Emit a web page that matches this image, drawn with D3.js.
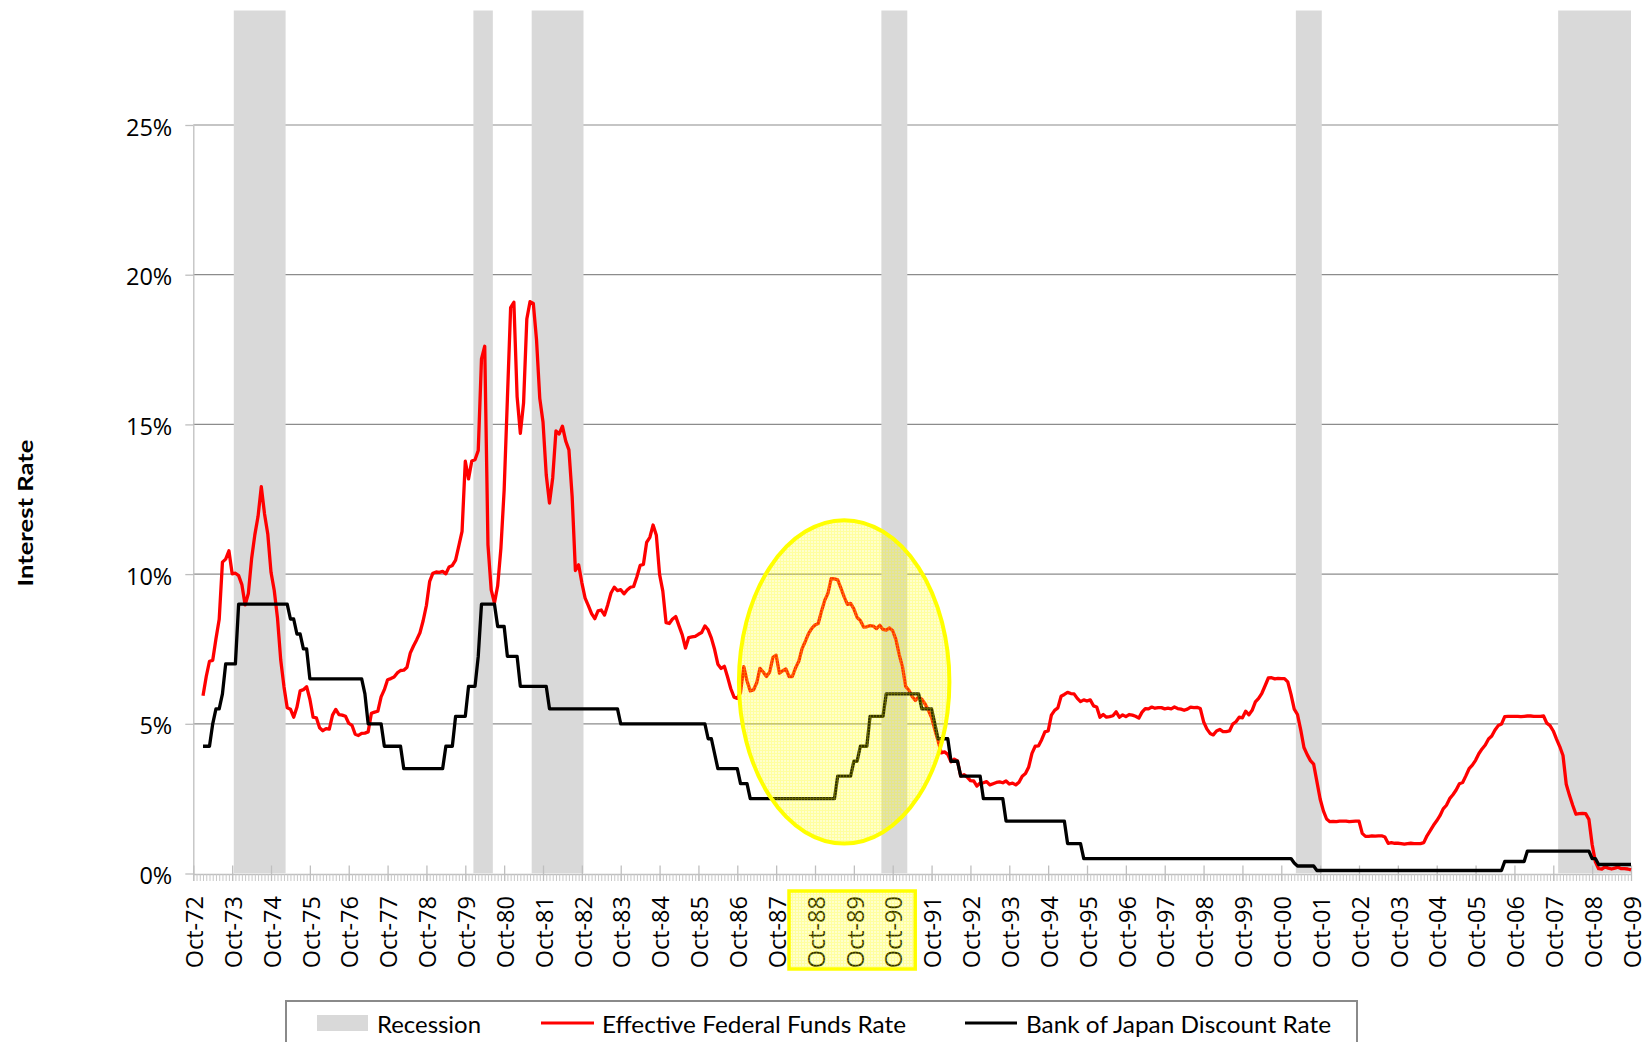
<!DOCTYPE html>
<html><head><meta charset="utf-8">
<script src="https://cdn.jsdelivr.net/npm/d3@7"></script>
<style>body{margin:0;background:#fff}svg{display:block}</style>
</head><body>
<svg id="chart" width="1648" height="1042"></svg>
<script>
// ---------------- DATA ----------------
const axisCategories = ["Oct-72","Oct-73","Oct-74","Oct-75","Oct-76","Oct-77","Oct-78","Oct-79","Oct-80","Oct-81","Oct-82","Oct-83","Oct-84","Oct-85","Oct-86","Oct-87","Oct-88","Oct-89","Oct-90","Oct-91","Oct-92","Oct-93","Oct-94","Oct-95","Oct-96","Oct-97","Oct-98","Oct-99","Oct-00","Oct-01","Oct-02","Oct-03","Oct-04","Oct-05","Oct-06","Oct-07","Oct-08","Oct-09"];
const firstDataMonth = "Jan-73";
const yTickValues = [0, 5, 10, 15, 20, 25];
const yTickLabels = ["0%", "5%", "10%", "15%", "20%", "25%"];
const seriesNames = ["Recession", "Effective Federal Funds Rate", "Bank of Japan Discount Rate"];
const yAxisTitle = "Interest Rate";

// Effective Federal Funds Rate, monthly, Jan-73 .. Oct-09 (%)
const fedFunds = [
 5.94,6.58,7.09,7.12,7.84,8.49,10.40,10.50,10.78,10.01,10.03,9.95,
 9.65,8.97,9.35,10.51,11.31,11.93,12.92,12.01,11.34,10.06,9.45,8.53,
 7.13,6.24,5.54,5.49,5.22,5.55,6.10,6.14,6.24,5.82,5.22,5.20,
 4.87,4.77,4.84,4.82,5.29,5.48,5.31,5.29,5.25,5.02,4.95,4.65,
 4.61,4.68,4.69,4.73,5.35,5.39,5.42,5.90,6.14,6.47,6.51,6.56,
 6.70,6.78,6.79,6.89,7.36,7.60,7.81,8.04,8.45,8.96,9.76,10.03,
 10.07,10.06,10.09,10.01,10.24,10.29,10.47,10.94,11.43,13.77,13.18,13.78,
 13.82,14.13,17.19,17.61,10.98,9.47,9.03,9.61,10.87,12.81,15.85,18.90,
 19.08,15.93,14.70,15.72,18.52,19.10,19.04,17.82,15.87,15.08,13.31,12.37,
 13.22,14.78,14.68,14.94,14.45,14.15,12.59,10.12,10.31,9.71,9.20,8.95,
 8.68,8.51,8.77,8.80,8.63,8.98,9.37,9.56,9.45,9.48,9.34,9.47,
 9.56,9.59,9.91,10.29,10.32,11.06,11.23,11.64,11.30,9.99,9.43,8.38,
 8.35,8.50,8.58,8.27,7.97,7.53,7.88,7.90,7.92,7.99,8.05,8.27,
 8.14,7.86,7.48,6.99,6.85,6.92,6.56,6.17,5.89,5.85,6.04,6.91,
 6.43,6.10,6.13,6.37,6.85,6.73,6.58,6.73,7.22,7.29,6.69,6.77,
 6.83,6.58,6.58,6.87,7.09,7.51,7.75,8.01,8.19,8.30,8.35,8.76,
 9.12,9.36,9.85,9.84,9.81,9.53,9.24,8.99,9.02,8.84,8.55,8.45,
 8.23,8.24,8.28,8.26,8.18,8.29,8.15,8.13,8.20,8.11,7.81,7.31,
 6.91,6.25,6.12,5.91,5.78,5.90,5.82,5.66,5.45,5.21,4.81,4.43,
 4.03,4.06,3.98,3.73,3.82,3.76,3.25,3.30,3.22,3.10,3.09,2.92,
 3.02,3.03,3.07,2.96,3.00,3.04,3.06,3.03,3.09,2.99,3.02,2.96,
 3.05,3.25,3.34,3.56,4.01,4.25,4.26,4.47,4.73,4.76,5.29,5.45,
 5.53,5.92,5.98,6.05,6.01,6.00,5.85,5.74,5.80,5.76,5.80,5.60,
 5.56,5.22,5.31,5.22,5.24,5.27,5.40,5.22,5.30,5.24,5.31,5.29,
 5.25,5.19,5.39,5.51,5.50,5.56,5.52,5.54,5.54,5.50,5.52,5.50,
 5.56,5.51,5.49,5.45,5.49,5.56,5.54,5.55,5.51,5.07,4.83,4.68,
 4.63,4.76,4.81,4.74,4.74,4.76,4.99,5.07,5.22,5.20,5.42,5.30,
 5.45,5.73,5.85,6.02,6.27,6.53,6.54,6.50,6.52,6.51,6.51,6.40,
 5.98,5.49,5.31,4.80,4.21,3.97,3.77,3.65,3.07,2.49,2.09,1.82,
 1.73,1.74,1.73,1.75,1.75,1.75,1.73,1.74,1.75,1.75,1.34,1.24,
 1.24,1.26,1.25,1.26,1.26,1.22,1.01,1.03,1.01,1.01,1.00,0.98,
 1.00,1.01,1.00,1.00,1.00,1.03,1.26,1.43,1.61,1.76,1.93,2.16,
 2.28,2.50,2.63,2.79,3.00,3.04,3.26,3.50,3.62,3.78,4.00,4.16,
 4.29,4.49,4.59,4.79,4.94,4.99,5.24,5.25,5.25,5.25,5.25,5.24,
 5.25,5.26,5.26,5.25,5.25,5.25,5.26,5.02,4.94,4.76,4.49,4.24,
 3.94,2.98,2.61,2.28,1.98,2.00,2.01,2.00,1.81,0.97,0.39,0.16,
 0.15,0.22,0.18,0.15,0.18,0.21,0.16,0.16,0.15,0.12
];

// Bank of Japan Discount Rate, monthly, Jan-73 .. Oct-09 (%)
const bojDiscount = [
 4.25,4.25,4.25,5.0,5.5,5.5,6.0,7.0,7.0,7.0,7.0,9.0,
 9.0,9.0,9.0,9.0,9.0,9.0,9.0,9.0,9.0,9.0,9.0,9.0,
 9.0,9.0,9.0,8.5,8.5,8.0,8.0,7.5,7.5,6.5,6.5,6.5,
 6.5,6.5,6.5,6.5,6.5,6.5,6.5,6.5,6.5,6.5,6.5,6.5,
 6.5,6.5,6.0,5.0,5.0,5.0,5.0,5.0,4.25,4.25,4.25,4.25,
 4.25,4.25,3.5,3.5,3.5,3.5,3.5,3.5,3.5,3.5,3.5,3.5,
 3.5,3.5,3.5,4.25,4.25,4.25,5.25,5.25,5.25,5.25,6.25,6.25,
 6.25,7.25,9.0,9.0,9.0,9.0,9.0,8.25,8.25,8.25,7.25,7.25,
 7.25,7.25,6.25,6.25,6.25,6.25,6.25,6.25,6.25,6.25,6.25,5.5,
 5.5,5.5,5.5,5.5,5.5,5.5,5.5,5.5,5.5,5.5,5.5,5.5,
 5.5,5.5,5.5,5.5,5.5,5.5,5.5,5.5,5.5,5.0,5.0,5.0,
 5.0,5.0,5.0,5.0,5.0,5.0,5.0,5.0,5.0,5.0,5.0,5.0,
 5.0,5.0,5.0,5.0,5.0,5.0,5.0,5.0,5.0,5.0,5.0,5.0,
 4.5,4.5,4.0,3.5,3.5,3.5,3.5,3.5,3.5,3.5,3.0,3.0,
 3.0,2.5,2.5,2.5,2.5,2.5,2.5,2.5,2.5,2.5,2.5,2.5,
 2.5,2.5,2.5,2.5,2.5,2.5,2.5,2.5,2.5,2.5,2.5,2.5,
 2.5,2.5,2.5,2.5,3.25,3.25,3.25,3.25,3.25,3.75,3.75,4.25,
 4.25,4.25,5.25,5.25,5.25,5.25,5.25,6.0,6.0,6.0,6.0,6.0,
 6.0,6.0,6.0,6.0,6.0,6.0,5.5,5.5,5.5,5.5,5.0,4.5,
 4.5,4.5,4.5,3.75,3.75,3.75,3.25,3.25,3.25,3.25,3.25,3.25,
 3.25,2.5,2.5,2.5,2.5,2.5,2.5,2.5,1.75,1.75,1.75,1.75,
 1.75,1.75,1.75,1.75,1.75,1.75,1.75,1.75,1.75,1.75,1.75,1.75,
 1.75,1.75,1.75,1.0,1.0,1.0,1.0,1.0,0.5,0.5,0.5,0.5,
 0.5,0.5,0.5,0.5,0.5,0.5,0.5,0.5,0.5,0.5,0.5,0.5,
 0.5,0.5,0.5,0.5,0.5,0.5,0.5,0.5,0.5,0.5,0.5,0.5,
 0.5,0.5,0.5,0.5,0.5,0.5,0.5,0.5,0.5,0.5,0.5,0.5,
 0.5,0.5,0.5,0.5,0.5,0.5,0.5,0.5,0.5,0.5,0.5,0.5,
 0.5,0.5,0.5,0.5,0.5,0.5,0.5,0.5,0.5,0.5,0.5,0.5,
 0.5,0.35,0.25,0.25,0.25,0.25,0.25,0.25,0.1,0.1,0.1,0.1,
 0.1,0.1,0.1,0.1,0.1,0.1,0.1,0.1,0.1,0.1,0.1,0.1,
 0.1,0.1,0.1,0.1,0.1,0.1,0.1,0.1,0.1,0.1,0.1,0.1,
 0.1,0.1,0.1,0.1,0.1,0.1,0.1,0.1,0.1,0.1,0.1,0.1,
 0.1,0.1,0.1,0.1,0.1,0.1,0.1,0.1,0.1,0.1,0.1,0.1,
 0.1,0.1,0.1,0.1,0.1,0.1,0.4,0.4,0.4,0.4,0.4,0.4,
 0.4,0.75,0.75,0.75,0.75,0.75,0.75,0.75,0.75,0.75,0.75,0.75,
 0.75,0.75,0.75,0.75,0.75,0.75,0.75,0.75,0.75,0.5,0.5,0.3,
 0.3,0.3,0.3,0.3,0.3,0.3,0.3,0.3,0.3,0.3
];

// NBER recessions as shaded in the chart (first month, last month)
const recessionStarts = ["Nov-73", "Jan-80", "Jul-81", "Jul-90", "Mar-01", "Dec-07"];
const recessionEnds   = ["Feb-75", "Jun-80", "Oct-82", "Feb-91", "Oct-01", "Oct-09"];

// highlighted period (annotation)
const highlightLabels = ["Oct-88", "Oct-89", "Oct-90"];
const highlightCenterMonth = "Jul-89";
const highlightCenterValue = 6.4;
const highlightHalfSpanMonths = 32.5;
const highlightHalfSpanPct = 5.4;

// ---------------- HELPERS ----------------
const MON = ["Jan","Feb","Mar","Apr","May","Jun","Jul","Aug","Sep","Oct","Nov","Dec"];
function monthIndex(lbl) {            // months after Oct-72
  const [m, yy] = lbl.split("-");
  const y = +yy < 50 ? 2000 + +yy : 1900 + +yy;
  return (y - 1972) * 12 + MON.indexOf(m) - 9;
}
const lastMonth = monthIndex(axisCategories[axisCategories.length - 1]);
const start = monthIndex(firstDataMonth);

// ---------------- LAYOUT ----------------
const svg = d3.select("#chart");
const left = 193.3, right = 1631, yBottom = 873.5, yTop25 = 125, plotTop = 10.5;
const x = d3.scaleLinear().domain([0, lastMonth]).range([left, right]);
const y = d3.scaleLinear().domain([0, 25]).range([yBottom, yTop25]);
const y2 = d3.scaleLinear().domain([0, 1]).range([yBottom, plotTop]);

const defs = svg.append("defs");
const pat = defs.append("pattern").attr("id", "hl").attr("patternUnits", "userSpaceOnUse")
  .attr("width", 3).attr("height", 3);
pat.append("rect").attr("width", 3).attr("height", 3).attr("fill", "rgba(255,255,0,0.2)");
pat.append("rect").attr("width", 3).attr("height", 1).attr("fill", "rgba(255,255,0,0.22)");
pat.append("rect").attr("y", 1).attr("width", 1).attr("height", 2).attr("fill", "rgba(255,255,0,0.22)");
defs.append("clipPath").attr("id", "plotclip").append("rect")
  .attr("x", left).attr("y", 0).attr("width", right - left).attr("height", yBottom);

// gridlines
svg.append("g").selectAll("line").data(yTickValues.filter(d => d > 0)).join("line")
  .attr("x1", left).attr("x2", right).attr("y1", d => y(d)).attr("y2", d => y(d))
  .attr("stroke", "#8c8c8c").attr("stroke-width", 1.2);

// recession bars
const recessions = recessionStarts.map((s, i) => ({ s: monthIndex(s), e: monthIndex(recessionEnds[i]) }));
svg.append("g").attr("clip-path", "url(#plotclip)").selectAll("rect").data(recessions).join("rect")
  .attr("x", d => x(d.s - 0.5))
  .attr("width", d => x(d.e + 0.5) - x(d.s - 0.5))
  .attr("y", y2(1)).attr("height", y2(0) - y2(1))
  .attr("fill", "#d9d9d9");

// y axis
const yAxis = svg.append("g").attr("transform", `translate(${left},0)`)
  .call(d3.axisLeft(y).tickValues(yTickValues).tickSizeInner(8).tickSizeOuter(0).tickPadding(13)
    .tickFormat((d, i) => yTickLabels[i]));
yAxis.select(".domain").attr("stroke", "#bfbfbf").attr("stroke-width", 1.3);
yAxis.selectAll(".tick line").attr("stroke", "#bfbfbf").attr("stroke-width", 1.3);
yAxis.selectAll(".tick text").attr("font-family", "'Open Sans', 'Noto Sans', sans-serif")
  .attr("font-size", 23.5).attr("fill", "#000").attr("dy", "0.43em");

// x axis: minor monthly ticks
const xMinor = svg.append("g").attr("transform", `translate(0,${yBottom + 0.5})`)
  .call(d3.axisBottom(x).tickValues(d3.range(0, lastMonth + 1)).tickSizeInner(7).tickSizeOuter(0).tickFormat(""));
xMinor.select(".domain").attr("stroke", "#bfbfbf").attr("stroke-width", 1.3);
xMinor.selectAll(".tick line").attr("stroke", "#c8c8c8").attr("stroke-width", 1);

// x axis: major yearly ticks crossing the axis
const xMajor = svg.append("g").attr("transform", `translate(0,${yBottom + 0.5})`)
  .call(d3.axisBottom(x).tickValues(axisCategories.map(monthIndex)).tickSizeInner(7).tickSizeOuter(0).tickFormat(""));
xMajor.select(".domain").remove();
xMajor.selectAll(".tick line").attr("y1", -8.5).attr("y2", 7).attr("stroke", "#bfbfbf").attr("stroke-width", 1.3);

// lines
const lineGen = d3.line().x((d, i) => x(start + i)).y(d => y(d));
svg.append("path").datum(fedFunds).attr("d", lineGen)
  .attr("fill", "none").attr("stroke", "#ff0000").attr("stroke-width", 3.3).attr("stroke-linejoin", "round");
svg.append("path").datum(bojDiscount).attr("d", lineGen)
  .attr("fill", "none").attr("stroke", "#000000").attr("stroke-width", 3.3).attr("stroke-linejoin", "round");

// highlight ellipse
const cm = monthIndex(highlightCenterMonth);
svg.append("ellipse")
  .attr("cx", x(cm)).attr("cy", y(highlightCenterValue))
  .attr("rx", x(cm + highlightHalfSpanMonths) - x(cm))
  .attr("ry", y(0) - y(highlightHalfSpanPct))
  .attr("fill", "url(#hl)").attr("stroke", "#ffff00").attr("stroke-width", 4);

// x labels
const labelTop = 896;
svg.append("g").selectAll("text").data(axisCategories).join("text")
  .attr("transform", d => `translate(${x(monthIndex(d))},${labelTop}) rotate(-90)`)
  .attr("text-anchor", "end").attr("dy", "0.41em")
  .attr("font-family", "'Open Sans', 'Noto Sans', sans-serif").attr("font-size", 23.5).attr("fill", "#000")
  .text(d => d);

// highlight rectangle around labels
{
  const first = monthIndex(highlightLabels[0]), last = monthIndex(highlightLabels[highlightLabels.length - 1]);
  const x0 = x(first) - 26, x1 = x(last) + 22.5;
  svg.append("rect").attr("x", x0).attr("y", 891).attr("width", x1 - x0).attr("height", 78)
    .attr("fill", "url(#hl)").attr("stroke", "#ffff00").attr("stroke-width", 3.5);
}

// y axis title
svg.append("text").attr("transform", "translate(33,513) rotate(-90)")
  .attr("text-anchor", "middle").attr("font-family", "Lato, 'Open Sans', sans-serif")
  .attr("font-weight", "bold").attr("font-size", 21.5).attr("fill", "#000")
  .attr("textLength", 147).attr("lengthAdjust", "spacingAndGlyphs")
  .text(yAxisTitle);

// legend
const lg = svg.append("g");
lg.append("rect").attr("x", 286).attr("y", 1001).attr("width", 1071).attr("height", 80)
  .attr("fill", "#fff").attr("stroke", "#8a8a8a").attr("stroke-width", 2);
lg.append("rect").attr("x", 317).attr("y", 1015).attr("width", 51).attr("height", 16).attr("fill", "#d9d9d9");
lg.append("line").attr("x1", 541).attr("x2", 594).attr("y1", 1023).attr("y2", 1023)
  .attr("stroke", "#ff0000").attr("stroke-width", 3);
lg.append("line").attr("x1", 965).attr("x2", 1017).attr("y1", 1023).attr("y2", 1023)
  .attr("stroke", "#000").attr("stroke-width", 3);
const legendText = [[377, 104], [602, 304], [1026, 305]];
lg.selectAll("text.lt").data(seriesNames).join("text").attr("class", "lt")
  .attr("x", (d, i) => legendText[i][0]).attr("y", 1032.5)
  .attr("font-family", "Lato, 'Open Sans', sans-serif").attr("font-size", 23.5).attr("fill", "#000")
  .attr("textLength", (d, i) => legendText[i][1]).attr("lengthAdjust", "spacingAndGlyphs")
  .text(d => d);
</script>
</body></html>
